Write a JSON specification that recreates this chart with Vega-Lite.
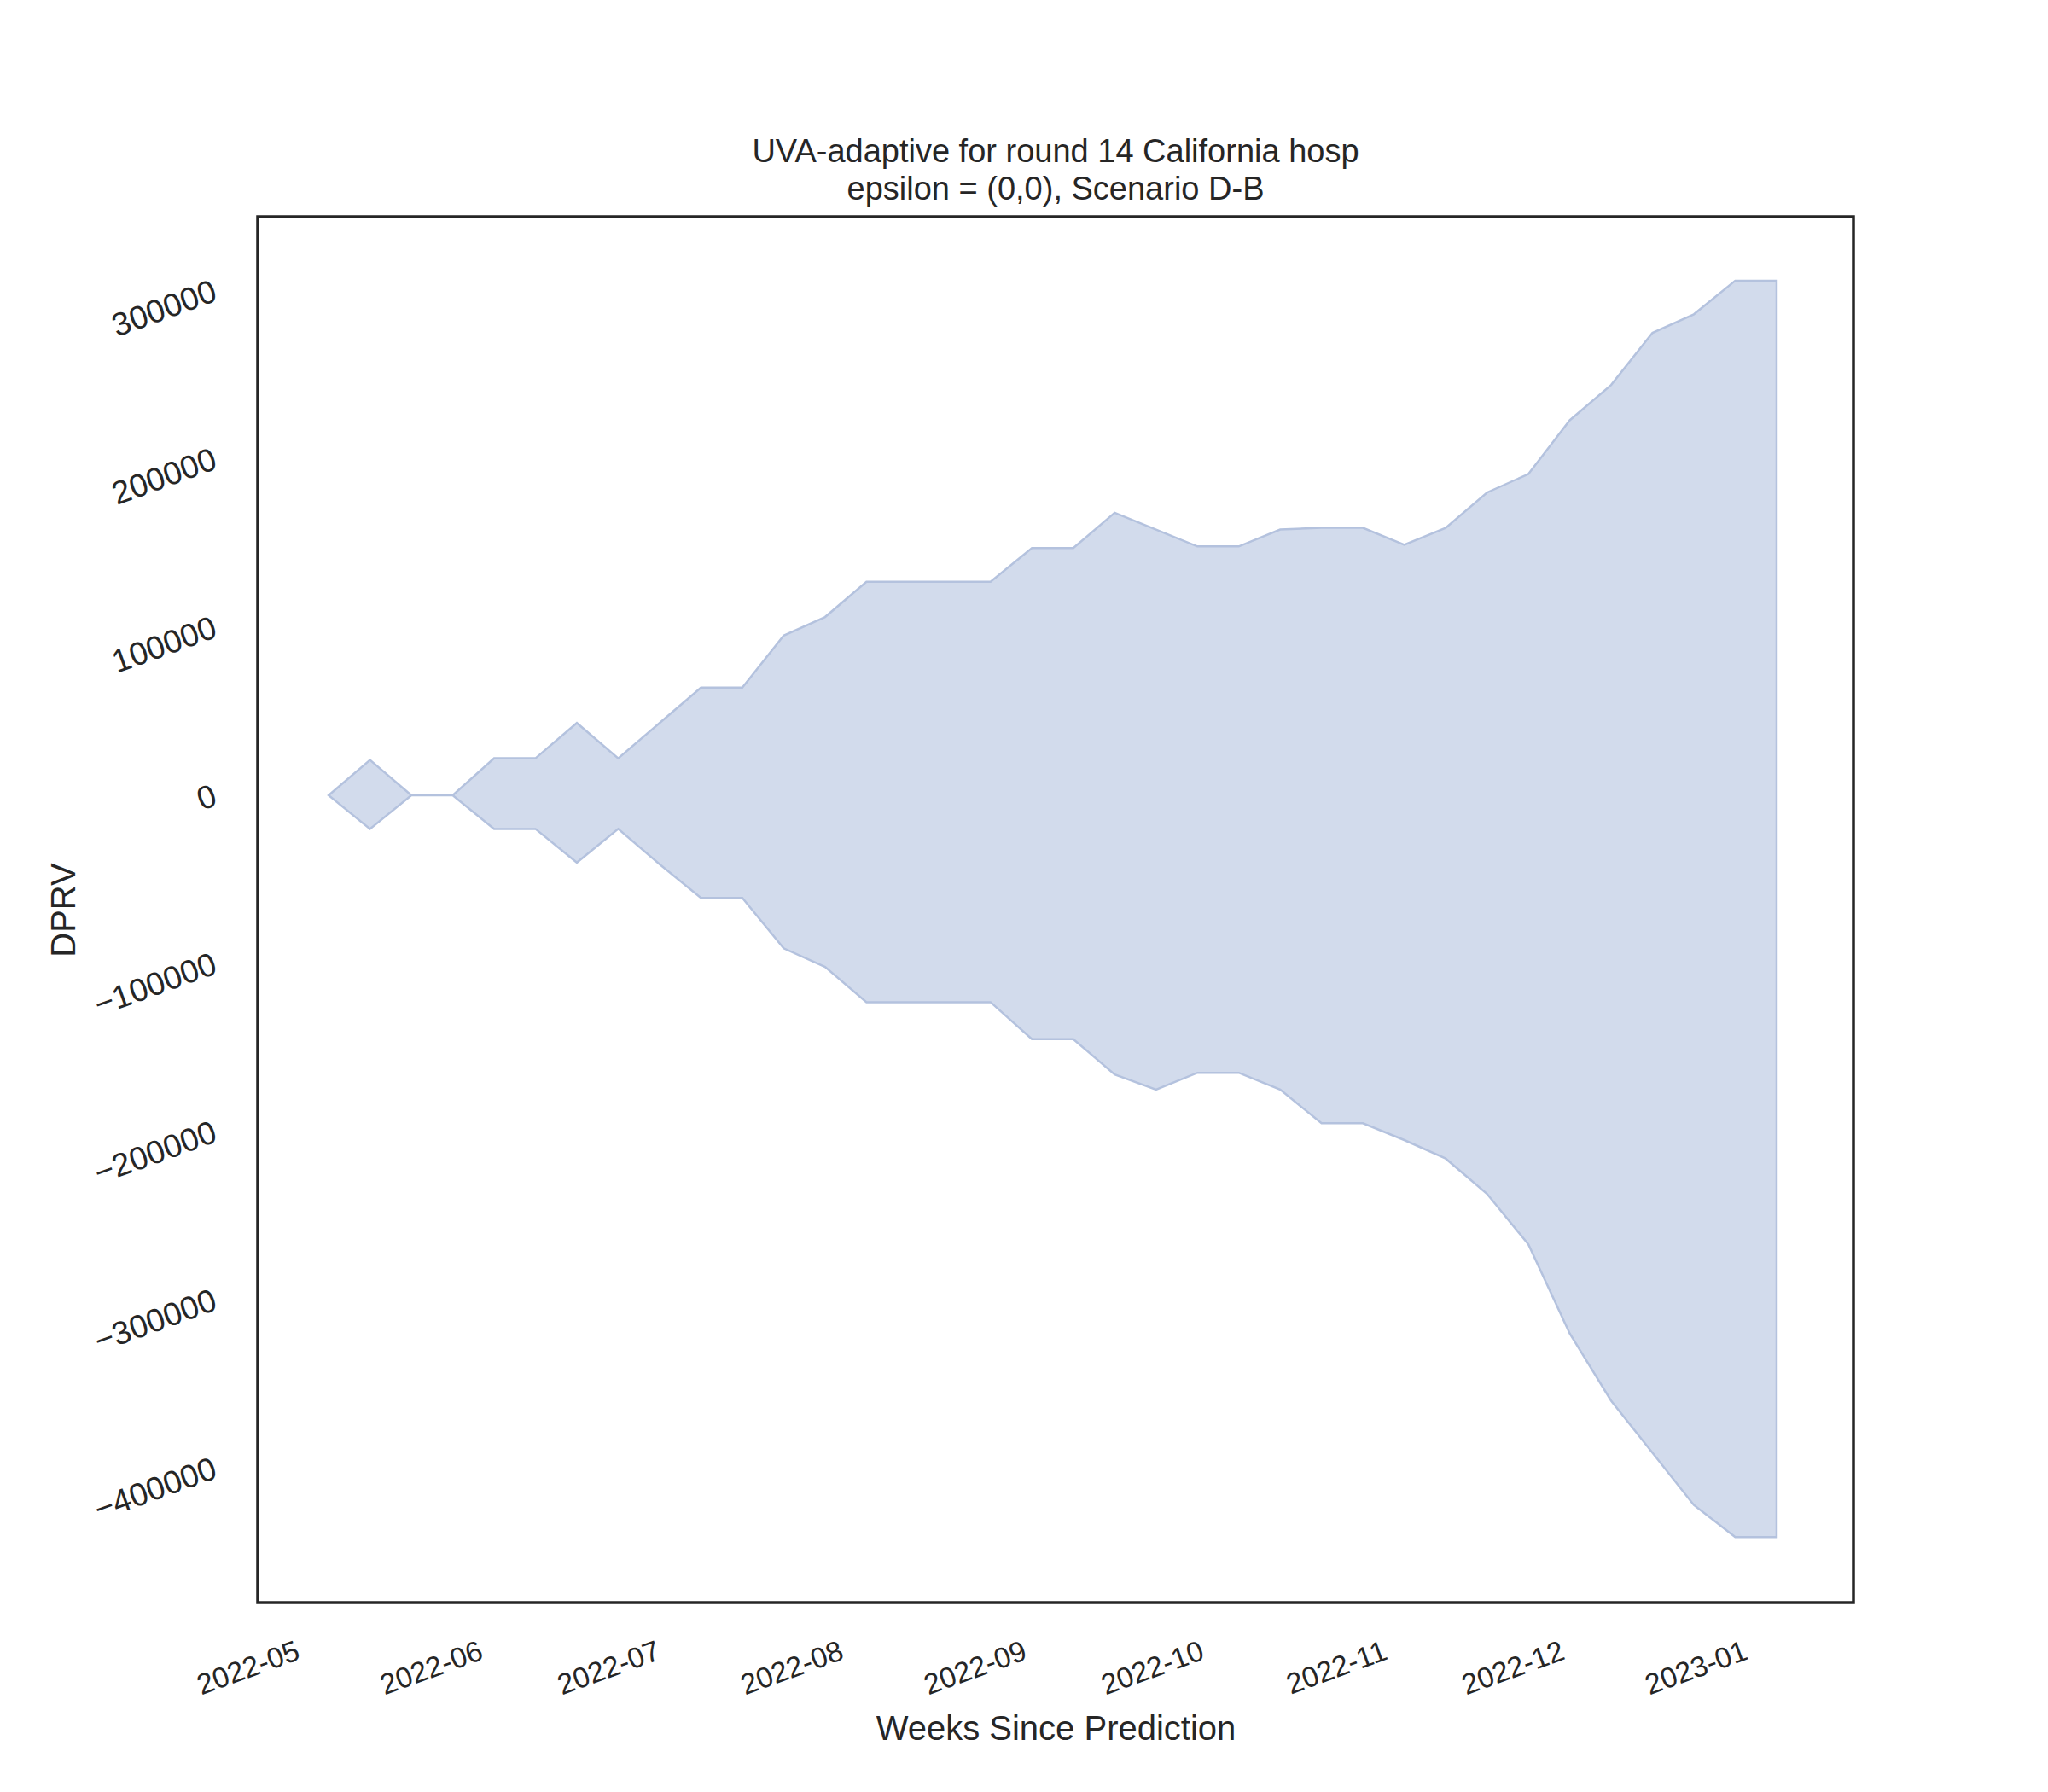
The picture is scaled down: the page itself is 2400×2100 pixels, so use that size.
{
  "$schema": "https://vega.github.io/schema/vega-lite/v6.json",
  "autosize": "none",
  "width": 1870,
  "height": 1624,
  "padding": {"left": 302, "top": 254, "right": 228, "bottom": 222},
  "background": "white",
  "title": {
    "text": ["UVA-adaptive for round 14 California hosp", "epsilon = (0,0), Scenario D-B"],
    "fontSize": 38, "font": "Liberation Sans", "fontWeight": "normal", "color": "#262626",
    "offset": 12, "lineHeight": 44
  },
  "config": {
    "view": {"stroke": "#262626", "strokeWidth": 3.5},
    "axis": {"grid": false, "domain": false, "ticks": false, "labelFont": "Liberation Sans", "titleFont": "Liberation Sans", "labelColor": "#262626", "titleColor": "#262626", "titleFontWeight": "normal"}
  },
  "data": {"values": [
    {"date": "2022-05-07", "lo": 0, "hi": 0},
    {"date": "2022-05-14", "lo": -20000, "hi": 21000},
    {"date": "2022-05-21", "lo": 0, "hi": 0},
    {"date": "2022-05-28", "lo": 0, "hi": 0},
    {"date": "2022-06-04", "lo": -20000, "hi": 22000},
    {"date": "2022-06-11", "lo": -20000, "hi": 22000},
    {"date": "2022-06-18", "lo": -40000, "hi": 43000},
    {"date": "2022-06-25", "lo": -20000, "hi": 22000},
    {"date": "2022-07-02", "lo": -41000, "hi": 43000},
    {"date": "2022-07-09", "lo": -61000, "hi": 64000},
    {"date": "2022-07-16", "lo": -61000, "hi": 64000},
    {"date": "2022-07-23", "lo": -91000, "hi": 95000},
    {"date": "2022-07-30", "lo": -102000, "hi": 106000},
    {"date": "2022-08-06", "lo": -123000, "hi": 127000},
    {"date": "2022-08-13", "lo": -123000, "hi": 127000},
    {"date": "2022-08-20", "lo": -123000, "hi": 127000},
    {"date": "2022-08-27", "lo": -123000, "hi": 127000},
    {"date": "2022-09-03", "lo": -145000, "hi": 147000},
    {"date": "2022-09-10", "lo": -145000, "hi": 147000},
    {"date": "2022-09-17", "lo": -166000, "hi": 168000},
    {"date": "2022-09-24", "lo": -175000, "hi": 158000},
    {"date": "2022-10-01", "lo": -165000, "hi": 148000},
    {"date": "2022-10-08", "lo": -165000, "hi": 148000},
    {"date": "2022-10-15", "lo": -175000, "hi": 158000},
    {"date": "2022-10-22", "lo": -195000, "hi": 159000},
    {"date": "2022-10-29", "lo": -195000, "hi": 159000},
    {"date": "2022-11-05", "lo": -205000, "hi": 149000},
    {"date": "2022-11-12", "lo": -216000, "hi": 159000},
    {"date": "2022-11-19", "lo": -237000, "hi": 180000},
    {"date": "2022-11-26", "lo": -267000, "hi": 191000},
    {"date": "2022-12-03", "lo": -320000, "hi": 223000},
    {"date": "2022-12-10", "lo": -360000, "hi": 244000},
    {"date": "2022-12-17", "lo": -391000, "hi": 275000},
    {"date": "2022-12-24", "lo": -422000, "hi": 286000},
    {"date": "2022-12-31", "lo": -441000, "hi": 306000},
    {"date": "2023-01-07", "lo": -441000, "hi": 306000}
  ]},
  "mark": {"type": "area", "color": "#d2dbec", "stroke": "#b4c2de", "strokeWidth": 2.5},
  "encoding": {
    "x": {"field": "date", "type": "temporal", "title": "Weeks Since Prediction",
      "scale": {"domain": ["2022-04-25", "2023-01-20"]},
      "axis": {"format": "%Y-%m", "tickCount": {"interval": "month", "step": 1}, "labelAngle": -20, "labelAlign": "right", "labelBaseline": "top", "labelFontSize": 34, "titleFontSize": 40, "labelPadding": 40, "titlePadding": 14}},
    "y": {"field": "hi", "type": "quantitative", "title": "DPRV",
      "scale": {"domain": [-480000, 344000], "nice": false, "zero": false},
      "axis": {"values": [-400000, -300000, -200000, -100000, 0, 100000, 200000, 300000], "format": "d", "labelAngle": -20, "labelFontSize": 38, "titleFontSize": 40, "labelPadding": 50, "titlePadding": 10}},
    "y2": {"field": "lo"}
  }
}
